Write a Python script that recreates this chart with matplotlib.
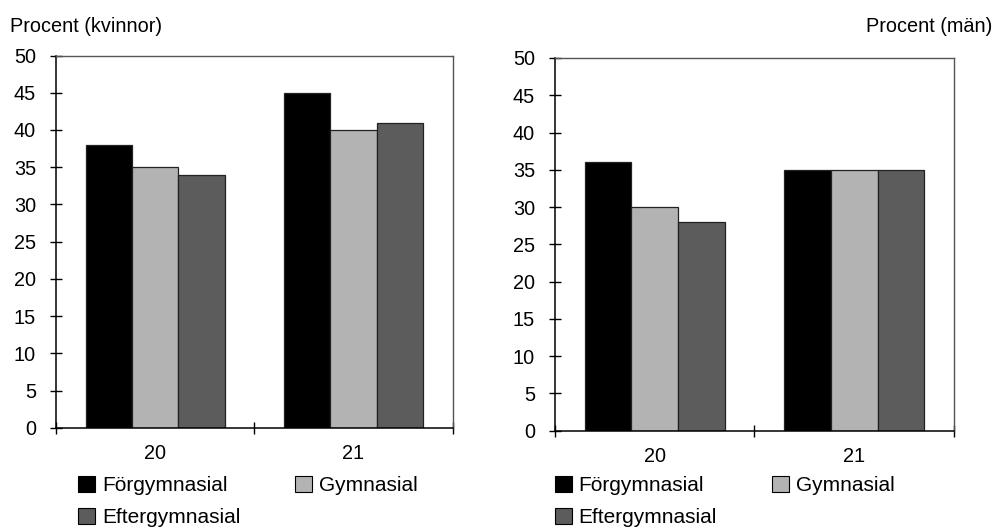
import matplotlib
matplotlib.use("Agg")
import matplotlib.pyplot as plt
import numpy as np
from matplotlib.patches import Patch

plt.rcParams['font.family'] = ['Liberation Sans', 'DejaVu Sans']

ages = ["20", "21"]
series = ["Förgymnasial", "Gymnasial", "Eftergymnasial"]
kvinnor = {
    "Förgymnasial": [38, 45],
    "Gymnasial": [35, 40],
    "Eftergymnasial": [34, 41],
}
man = {
    "Förgymnasial": [36, 35],
    "Gymnasial": [30, 35],
    "Eftergymnasial": [28, 35],
}
colors = {"Förgymnasial": "#000000", "Gymnasial": "#b3b3b3", "Eftergymnasial": "#5c5c5c"}
yticks = list(range(0, 55, 5))

FS = 14.3
LFS = 15
fig = plt.figure(figsize=(9.93, 5.32), dpi=100)


def panel(rect, data, legend_x):
    ax = fig.add_axes(rect)
    n = len(series)
    w = 0.7 / n
    x = np.arange(len(ages)) + 0.5
    for i, s in enumerate(series):
        ax.bar(x + (i - 1) * w, data[s], width=w, color=colors[s],
               edgecolor="#222222", linewidth=0.9, zorder=2)
    ax.set_xlim(0, len(ages))
    ax.set_ylim(0, 50)
    ax.set_yticks(yticks)
    ax.set_xticks(np.arange(len(ages) + 1))
    ax.set_xticklabels([])
    ax.set_xticks(x, minor=True)
    ax.set_xticklabels(ages, minor=True, fontsize=FS)
    ax.tick_params(axis="x", which="minor", length=0, pad=12)
    ax.tick_params(axis="x", which="major", direction="inout", length=9, width=1)
    ax.tick_params(axis="y", direction="inout", length=9, width=1, labelsize=FS, pad=10)
    for side in ("left", "bottom"):
        ax.spines[side].set_color("black")
        ax.spines[side].set_linewidth(1.1)
    for side in ("top", "right"):
        ax.spines[side].set_color("#555555")
        ax.spines[side].set_linewidth(1.0)
    handles = [Patch(facecolor=colors[s], edgecolor="black", linewidth=0.8, label=s)
               for s in ["Förgymnasial", "Eftergymnasial", "Gymnasial"]]
    fig.legend(handles=handles, loc="upper left", bbox_to_anchor=(legend_x, 0.106),
               ncol=2, frameon=False, fontsize=LFS, handlelength=0.82, handleheight=0.82,
               handletextpad=0.32, columnspacing=2.63, labelspacing=0.62,
               borderpad=0, borderaxespad=0)
    return ax


panel([0.0564, 0.196, 0.3995, 0.6996], kvinnor, 78 / 993)
panel([0.5589, 0.1904, 0.4018, 0.7006], man, 555 / 993)

fig.text(10 / 993, 1 - 26 / 532, "Procent (kvinnor)", fontsize=FS, ha="left", va="center")
fig.text(992 / 993, 1 - 26 / 532, "Procent (män)", fontsize=FS, ha="right", va="center")

fig.savefig("out.png", dpi=100)
